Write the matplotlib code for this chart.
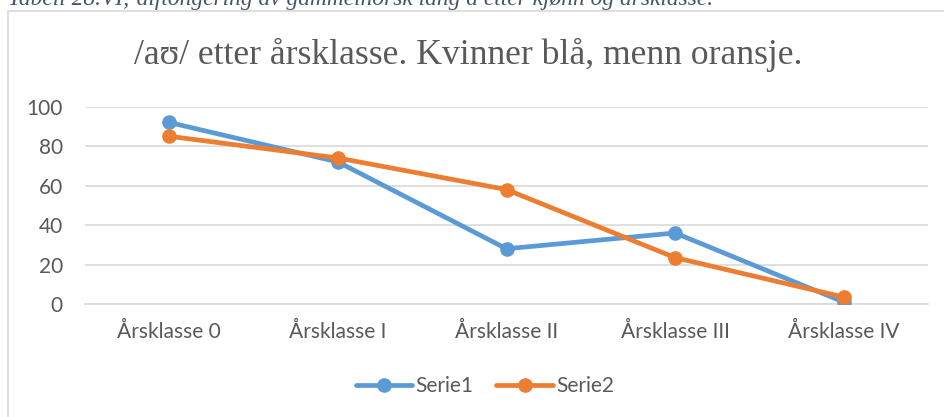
import matplotlib
matplotlib.use('Agg')
import matplotlib.pyplot as plt
from matplotlib.patches import Rectangle

# data
kategorier = ['Årsklasse 0', 'Årsklasse I', 'Årsklasse II', 'Årsklasse III', 'Årsklasse IV']
serie1 = [92, 72, 28, 36, 1]     # kvinner (blå)
serie2 = [85, 74, 58, 23.5, 3.5] # menn (oransje)
y_ticks = [0, 20, 40, 60, 80, 100]

tittel = '/aʊ/ etter årsklasse. Kvinner blå, menn oransje.'
bildetekst = 'Tabell 28.VI; diftongering av gammelnorsk lang a etter kjønn og årsklasse.'

W, H = 944, 417
fig = plt.figure(figsize=(W / 100, H / 100), dpi=100)

# chart border (runs past the right and bottom edge of the crop)
fig.patches.append(Rectangle((8 / W, -0.1), 1.0, 1 - 11 / H + 0.1, transform=fig.transFigure,
                             fill=False, edgecolor='#d9d9d9', linewidth=1.2))

# caption above the chart, cut off at the top like in the original
fig.text(8 / W, 1 - 5 / H, bildetekst, family=['Liberation Serif', 'DejaVu Serif'],
         style='italic', fontsize=16.8, color='#44546a', ha='left', va='baseline')

fig.text(0.5 * (132 + 805) / W, 1 - 64 / H, tittel, family=['Liberation Serif', 'DejaVu Serif'],
         fontsize=25.7, color='#595959', ha='center', va='baseline')

ax = fig.add_axes([85 / W, 1 - 304 / H, (928 - 85) / W, (304 - 106.7) / H])
x = list(range(len(kategorier)))
ax.plot(x, serie1, color='#5b9bd5', linewidth=3.4, marker='o', markersize=9.5,
        label='Serie1', solid_capstyle='round', zorder=3)
ax.plot(x, serie2, color='#ed7d31', linewidth=3.4, marker='o', markersize=9.5,
        label='Serie2', solid_capstyle='round', zorder=4)

ax.set_xlim(-0.5, len(kategorier) - 0.5)
ax.set_ylim(0, 100)
ax.set_yticks(y_ticks)
ax.set_xticks(x)
ax.set_xticklabels(kategorier)
ax.grid(axis='y', color='#d9d9d9', linewidth=1.2)
ax.set_axisbelow(True)
for s in ['top', 'right', 'left']:
    ax.spines[s].set_visible(False)
ax.spines['bottom'].set_color('#d9d9d9')
ax.spines['bottom'].set_linewidth(1.2)
ax.tick_params(length=0, labelsize=15, labelcolor='#595959')
ax.tick_params(axis='y', pad=16)
ax.tick_params(axis='x', pad=13)
for lab in ax.get_xticklabels() + ax.get_yticklabels():
    lab.set_family(['Lato', 'DejaVu Sans'])

leg = fig.legend(loc='center', bbox_to_anchor=(485 / W, 1 - 386 / H), ncol=2, frameon=False,
                 handlelength=2.7, columnspacing=1.1, handletextpad=0.15,
                 prop={'family': ['Lato', 'DejaVu Sans'], 'size': 15})
for t in leg.get_texts():
    t.set_color('#595959')

fig.savefig('out.png', dpi=100)
